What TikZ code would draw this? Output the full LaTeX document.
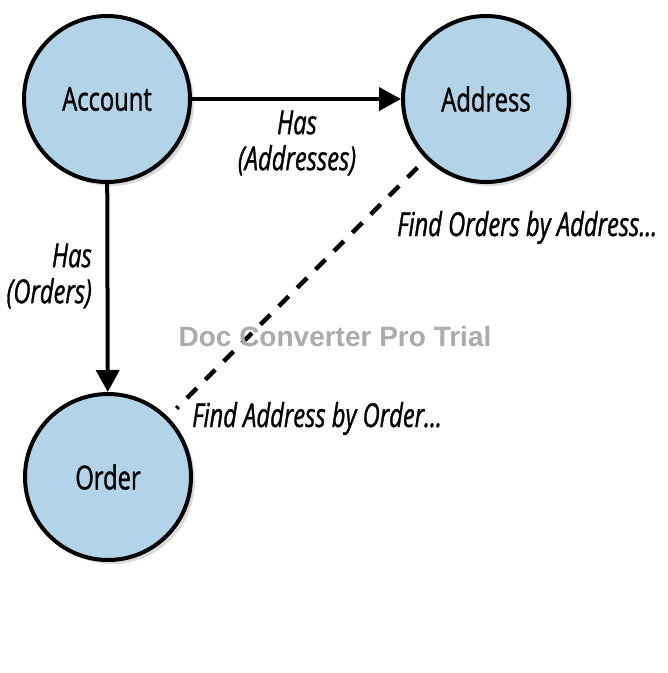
\documentclass[tikz,border=0pt]{standalone}
\usepackage{fontspec}
\setmainfont{Open Sans}[FakeStretch=0.72,FakeBold=1]
\newfontfamily\markfont{Liberation Sans}
\usepackage{xcolor}
\usetikzlibrary{arrows.meta,shadows}

\definecolor{nodeblue}{RGB}{179,212,232}

\begin{document}
\begin{tikzpicture}[x=1pt,y=-1pt,
        entity/.style={circle,draw=black,line width=4pt,fill=nodeblue,minimum size=166pt,
            drop shadow={opacity=0.3,shadow xshift=4pt,shadow yshift=-4pt},
            font=\fontsize{33}{40}\selectfont},
        hasarrow/.style={line width=4pt,-{Triangle[length=22pt,width=23pt]}},
        findline/.style={line width=4.5pt,dash pattern=on 14pt off 12pt,shorten <=12pt,shorten >=12pt},
        lbl/.style={font=\fontsize{33}{36}\selectfont\itshape,inner sep=0pt}]
            \useasboundingbox (0,0) rectangle (668,673);

            \node[entity] (account) at (107,99) {Account};
            \node[entity] (address) at (486,99) {Address};
            \node[entity] (order) at (108,477) {Order};

            \draw[hasarrow] (account) -- (address);
            \draw[hasarrow] (account) -- (order);
            \draw[findline] (address) -- (order);

            \node[lbl,align=center] (hasaddr) at (297,143) {Has\\(Addresses)};
            \node[lbl,align=right,anchor=east] (hasord) at (92,276) {Has\\(Orders)};
            \node[lbl,anchor=base west] (findord) at (397,236) {Find Orders by Address...};
            \node[lbl,anchor=base west] (findaddr) at (192,427) {Find Address by Order...};

            \node[font=\markfont\bfseries\fontsize{28}{32}\selectfont,text=black!33] (mark) at (335,336) {Doc Converter Pro Trial};
        \end{tikzpicture}
\end{document}
